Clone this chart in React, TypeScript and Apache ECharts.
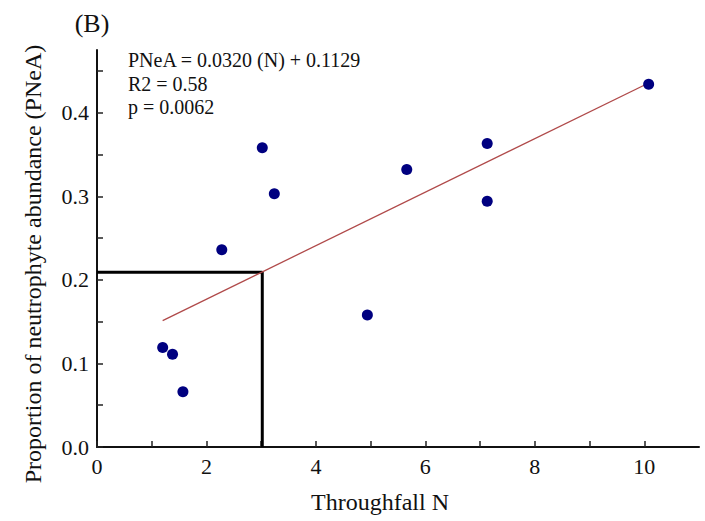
import React, { useEffect, useRef } from "react";
import * as echarts from "echarts";

const throughfallN = [1.2, 1.38, 1.57, 2.28, 3.02, 3.24, 4.94, 5.66, 7.13, 7.13, 10.08];
const pneaValues = [0.119, 0.111, 0.066, 0.236, 0.358, 0.303, 0.158, 0.332, 0.363, 0.294, 0.434];
const fitSlope = 0.032;
const fitIntercept = 0.1129;
const fitRangeX = [1.2, 10.1];
const refX = 3.02;
const refY = 0.209;
const xTicks = [0, 1, 2, 3, 4, 5, 6, 7, 8, 9, 10];
const xTickLabels = [0, 2, 4, 6, 8, 10];
const yTicks = [0, 0.05, 0.1, 0.15, 0.2, 0.25, 0.3, 0.35, 0.4, 0.45];
const yTickLabels = [0, 0.1, 0.2, 0.3, 0.4];
const annotationLines = ["PNeA = 0.0320 (N) + 0.1129", "R2 = 0.58", "p = 0.0062"];

const FONT = "'Liberation Serif', 'Times New Roman', serif";

export default function App() {
  const ref = useRef<HTMLDivElement>(null);
  useEffect(() => {
    if (!ref.current) return;
    const chart = echarts.init(ref.current, null, { renderer: "svg" });
    const points = throughfallN.map((x, i) => [x, pneaValues[i]]);
    const fitLine = fitRangeX.map((x) => [x, fitSlope * x + fitIntercept]);
    const refLine = [
      [0, refY],
      [refX, refY],
      [refX, 0],
    ];
    chart.setOption({
      animation: false,
      backgroundColor: "#ffffff",
      grid: { left: 97, right: 6, top: 50, bottom: 74, containLabel: false },
      xAxis: {
        type: "value",
        min: 0,
        max: 11,
        splitLine: { show: false },
        axisLine: { show: true, onZero: false, lineStyle: { color: "#111", width: 2 } },
        axisTick: { show: true, inside: true, length: 6, customValues: xTicks, lineStyle: { color: "#222", width: 1.5 } },
        axisLabel: {
          customValues: xTickLabels,
          formatter: (v: number) => String(Math.round(v)),
          color: "#111",
          fontFamily: FONT,
          fontSize: 22,
          margin: 8,
        },
      },
      yAxis: {
        type: "value",
        min: 0,
        max: 0.475,
        splitLine: { show: false },
        axisLine: { show: true, onZero: false, lineStyle: { color: "#111", width: 2 } },
        axisTick: { show: true, inside: true, length: 6, customValues: yTicks, lineStyle: { color: "#222", width: 1.5 } },
        axisLabel: {
          customValues: yTickLabels,
          formatter: (v: number) => v.toFixed(1),
          color: "#111",
          fontFamily: FONT,
          fontSize: 22,
          margin: 8,
        },
      },
      series: [
        {
          type: "line",
          data: refLine,
          symbol: "none",
          lineStyle: { color: "#000", width: 3 },
          z: 2,
        },
        {
          type: "line",
          data: fitLine,
          symbol: "none",
          lineStyle: { color: "#b04a4a", width: 1.3 },
          z: 3,
        },
        {
          type: "scatter",
          data: points,
          symbolSize: 11,
          itemStyle: { color: "#000080", opacity: 1 },
          z: 4,
        },
      ],
      graphic: [
        {
          type: "text",
          x: 92,
          y: 23,
          style: { text: "(B)", font: `26px ${FONT}`, fill: "#111", textAlign: "center", textVerticalAlign: "middle" },
        },
        ...annotationLines.map((t, i) => ({
          type: "text",
          x: 128,
          y: 60 + i * 23.5,
          style: { text: t, font: `20px ${FONT}`, fill: "#111", textAlign: "left", textVerticalAlign: "middle" },
        })),
        {
          type: "text",
          x: 380,
          y: 502,
          style: { text: "Throughfall N", font: `24px ${FONT}`, fill: "#111", textAlign: "center", textVerticalAlign: "middle" },
        },
        {
          type: "text",
          x: 33,
          y: 264,
          rotation: Math.PI / 2,
          style: {
            text: "Proportion of neutrophyte abundance (PNeA)",
            font: `24px ${FONT}`,
            fill: "#111",
            textAlign: "center",
            textVerticalAlign: "middle",
          },
        },
      ],
    });
    return () => chart.dispose();
  }, []);
  return (
    <div
      ref={ref}
      style={{ position: "fixed", left: 0, top: 0, width: 705, height: 521, background: "#fff" }}
    />
  );
}
